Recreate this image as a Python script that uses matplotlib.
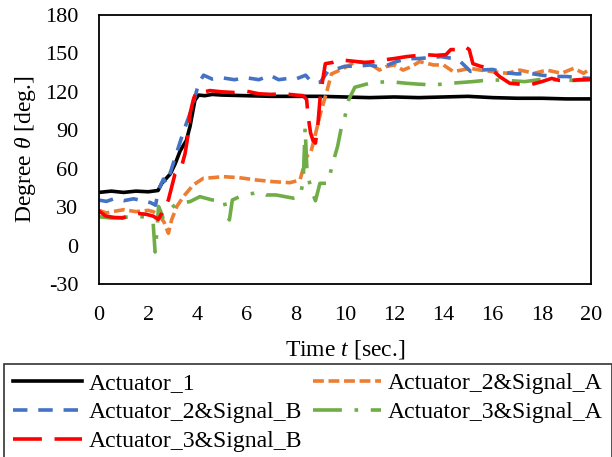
import matplotlib
matplotlib.use("Agg")
import matplotlib.pyplot as plt

plt.rcParams['font.family'] = ['Liberation Serif', 'DejaVu Serif']
plt.rcParams['mathtext.fontset'] = 'custom'
plt.rcParams['mathtext.rm'] = 'Liberation Serif'
plt.rcParams['mathtext.it'] = 'Liberation Serif:italic'
plt.rcParams['axes.unicode_minus'] = False

# ---- data ----
t_a1 = [0, 0.5, 1, 1.5, 2, 2.4, 2.55, 2.9, 3.1, 3.3, 3.55, 3.7, 3.9, 4.05, 4.3, 4.6, 5, 6, 7, 8, 9, 10, 11, 12, 13, 14, 15, 16, 17, 18, 19, 20]
v_a1 = [41.5, 42.5, 41.5, 42.5, 42, 43, 48.5, 56, 64, 74, 82, 93, 113.5, 117.5, 117, 118, 117.5, 117, 116.5, 116.5, 116.5, 116, 115.5, 116, 115.5, 116, 116.5, 115.5, 115, 115, 114.5, 114.5]

t_a2b = [0, 0.3, 0.6, 1.0, 1.4, 1.8, 2.1, 2.3, 2.41, 2.62, 2.75, 2.95, 3.2, 3.45, 3.7, 3.9, 4.05, 4.25, 4.6, 5.0, 5.5, 6.0, 6.5, 6.95, 7.3, 7.7, 8.0, 8.4, 8.6, 8.8, 9.0, 9.3, 9.6, 10.0, 10.5, 11.0, 11.5, 12.0, 12.5, 13.0, 13.9, 14.4, 14.7, 15.1, 15.5, 16.0, 16.5, 17.0, 17.5, 18.0, 18.5, 19.0, 19.5, 20]
v_a2b = [35.5, 34.5, 36.5, 35, 36.5, 35, 33.5, 31.5, 43, 52, 48.5, 60, 75, 90, 103, 116, 126.5, 133, 130, 131, 129.5, 131, 129.5, 133, 129.5, 130.5, 130, 133, 128.5, 127, 127.5, 136, 137.5, 140, 140, 141, 139, 143, 146, 146, 147.5, 146, 143.5, 136, 137, 137.5, 135, 134, 134.5, 133, 132, 132, 131, 130.5]

t_a2a = [0, 0.3, 0.7, 1.0, 1.5, 2.0, 2.2, 2.45, 2.65, 2.82, 2.95, 3.16, 3.43, 3.83, 4.24, 4.6, 5.05, 5.7, 6.4, 7.08, 7.76, 8.17, 8.3, 8.45, 8.6, 8.75, 9.0, 9.27, 9.45, 9.8, 10.07, 10.45, 10.99, 11.4, 11.67, 12.0, 12.36, 12.7, 13.03, 13.6, 14.0, 14.4, 14.74, 15.08, 15.5, 16.0, 16.6, 17.1, 17.7, 18.2, 18.8, 19.3, 19.7, 20]
v_a2a = [27.5, 25.5, 27, 28, 26.5, 27.5, 26.5, 24, 18, 9.6, 20, 30.4, 38.2, 47.3, 52.5, 53, 53.8, 53, 51.2, 49.9, 49.1, 51.2, 60, 70, 72, 83, 103, 121, 134, 137, 139.7, 143.6, 142.3, 137, 139.7, 141, 137, 139.7, 143.6, 141, 141, 135.8, 137, 138.4, 137, 135.8, 134.5, 137, 134.5, 137, 134.5, 138.4, 134.5, 138.4]

t_a3a = [0, 0.5, 1.0, 1.5, 2.0, 2.2, 2.28, 2.35, 2.42, 2.5, 2.6, 2.82, 3.16, 3.7, 4.1, 4.6, 5.08, 5.2, 5.3, 5.42, 5.87, 6.28, 6.55, 6.8, 7.2, 7.9, 8.17, 8.3, 8.38, 8.45, 8.6, 8.8, 8.98, 9.3, 9.5, 9.7, 9.86, 10.0, 10.15, 10.4, 11.1, 11.8, 12.5, 13.0, 13.6, 14.3, 15.2, 15.9, 16.6, 17.3, 18.0, 18.6, 19.3, 20]
v_a3a = [22.5, 21.5, 22, 23, 22, 18, -5, 10, 30.5, 27, 22, 27, 33, 34.3, 38.2, 35.6, 35.6, 25, 20, 35.6, 39.5, 40.8, 42.1, 39.5, 39.5, 37, 38.2, 50, 92, 60, 45, 35, 48.6, 48.6, 64, 77.5, 93, 101, 113.8, 123.6, 127.2, 128, 126.7, 126, 125.4, 126.7, 128, 129.4, 128.9, 128, 129.8, 129.4, 128.9, 129.4]

t_a3b = [0, 0.28, 0.6, 0.96, 1.3, 1.6, 1.9, 2.2, 2.41, 2.55, 2.82, 3.09, 3.36, 3.5, 3.6, 3.7, 3.85, 3.97, 4.2, 4.5, 5.0, 5.5, 6.0, 6.5, 7.0, 7.5, 8.0, 8.3, 8.44, 8.5, 8.6, 8.7, 8.8, 8.9, 9.0, 9.1, 9.2, 9.5, 9.8, 10.3, 10.8, 11.15, 11.6, 12.0, 12.5, 13.0, 13.3, 13.7, 14.1, 14.3, 14.5, 14.7, 14.9, 15.05, 15.2, 15.5, 15.9, 16.3, 16.7, 17.1, 17.5, 18.0, 18.4, 18.7, 19.1, 19.5, 20]
v_a3b = [27, 23, 22, 21.5, 24, 25, 24.5, 23, 20.5, 25, 35.6, 56, 62, 72, 84, 103, 115, 120, 119.5, 121, 120, 119.5, 120.5, 118.5, 118, 118.5, 117.5, 117, 114, 101, 88, 82, 80, 95, 118, 130, 142, 143, 145, 144, 143, 143.5, 145, 146, 147.5, 148.5, 149, 148.5, 149, 153, 153, 153, 155, 153, 142, 140, 138.5, 131.7, 126.7, 126, 125.4, 128, 130.5, 129, 128.7, 129.5, 129.8]

x_ticks = list(range(0, 21, 2))
y_ticks = list(range(-30, 181, 30))

labels = ["Actuator_1", "Actuator_2&Signal_B", "Actuator_3&Signal_B",
          "Actuator_2&Signal_A", "Actuator_3&Signal_A"]

fig = plt.figure(figsize=(6.12, 4.57), dpi=100)
ax = fig.add_axes([99/612, 1-284/457, (591-99)/612, (284-15)/457])

lw = 2.6
l_a1, = ax.plot(t_a1, v_a1, color='black', lw=lw, solid_joinstyle='round')
l_a2a, = ax.plot(t_a2a, v_a2a, color='#ED7D31', lw=lw, dashes=(3, 1.3))
l_a2b, = ax.plot(t_a2b, v_a2b, color='#4472C4', lw=lw, dashes=(4, 3))
l_a3a, = ax.plot(t_a3a, v_a3a, color='#70AD47', lw=lw, dashes=(8, 3.5, 1, 3.5))
l_a3b, = ax.plot(t_a3b, v_a3b, color='#FF0000', lw=lw, dashes=(8, 3.5))

ax.set_xlim(0, 20)
ax.set_ylim(-30, 180)
ax.set_xticks(x_ticks)
ax.set_yticks(y_ticks)
ax.tick_params(axis='both', length=0, labelsize=16)
ax.tick_params(axis='x', pad=16)
ax.tick_params(axis='y', pad=15)
for s in ax.spines.values():
    s.set_linewidth(1.3)
    s.set_color('black')

ax.set_xlabel("Time $t$ [sec.]", fontsize=17, labelpad=9)
ax.set_ylabel(r"Degree $\theta$ [deg.]", fontsize=17, labelpad=5)

handles = [l_a1, l_a2b, l_a3b, l_a2a, l_a3a]
leg = fig.legend(handles, labels, ncol=2, loc='upper left',
                 bbox_to_anchor=(4/612, 1-364/457), bbox_transform=fig.transFigure,
                 fontsize=17.1, frameon=True, fancybox=False, edgecolor='black',
                 handlelength=2.9, handletextpad=0.28, columnspacing=0.45,
                 labelspacing=0.31, borderpad=0.37, borderaxespad=0)
leg.get_frame().set_linewidth(1.2)

fig.savefig("out.png", dpi=100)
